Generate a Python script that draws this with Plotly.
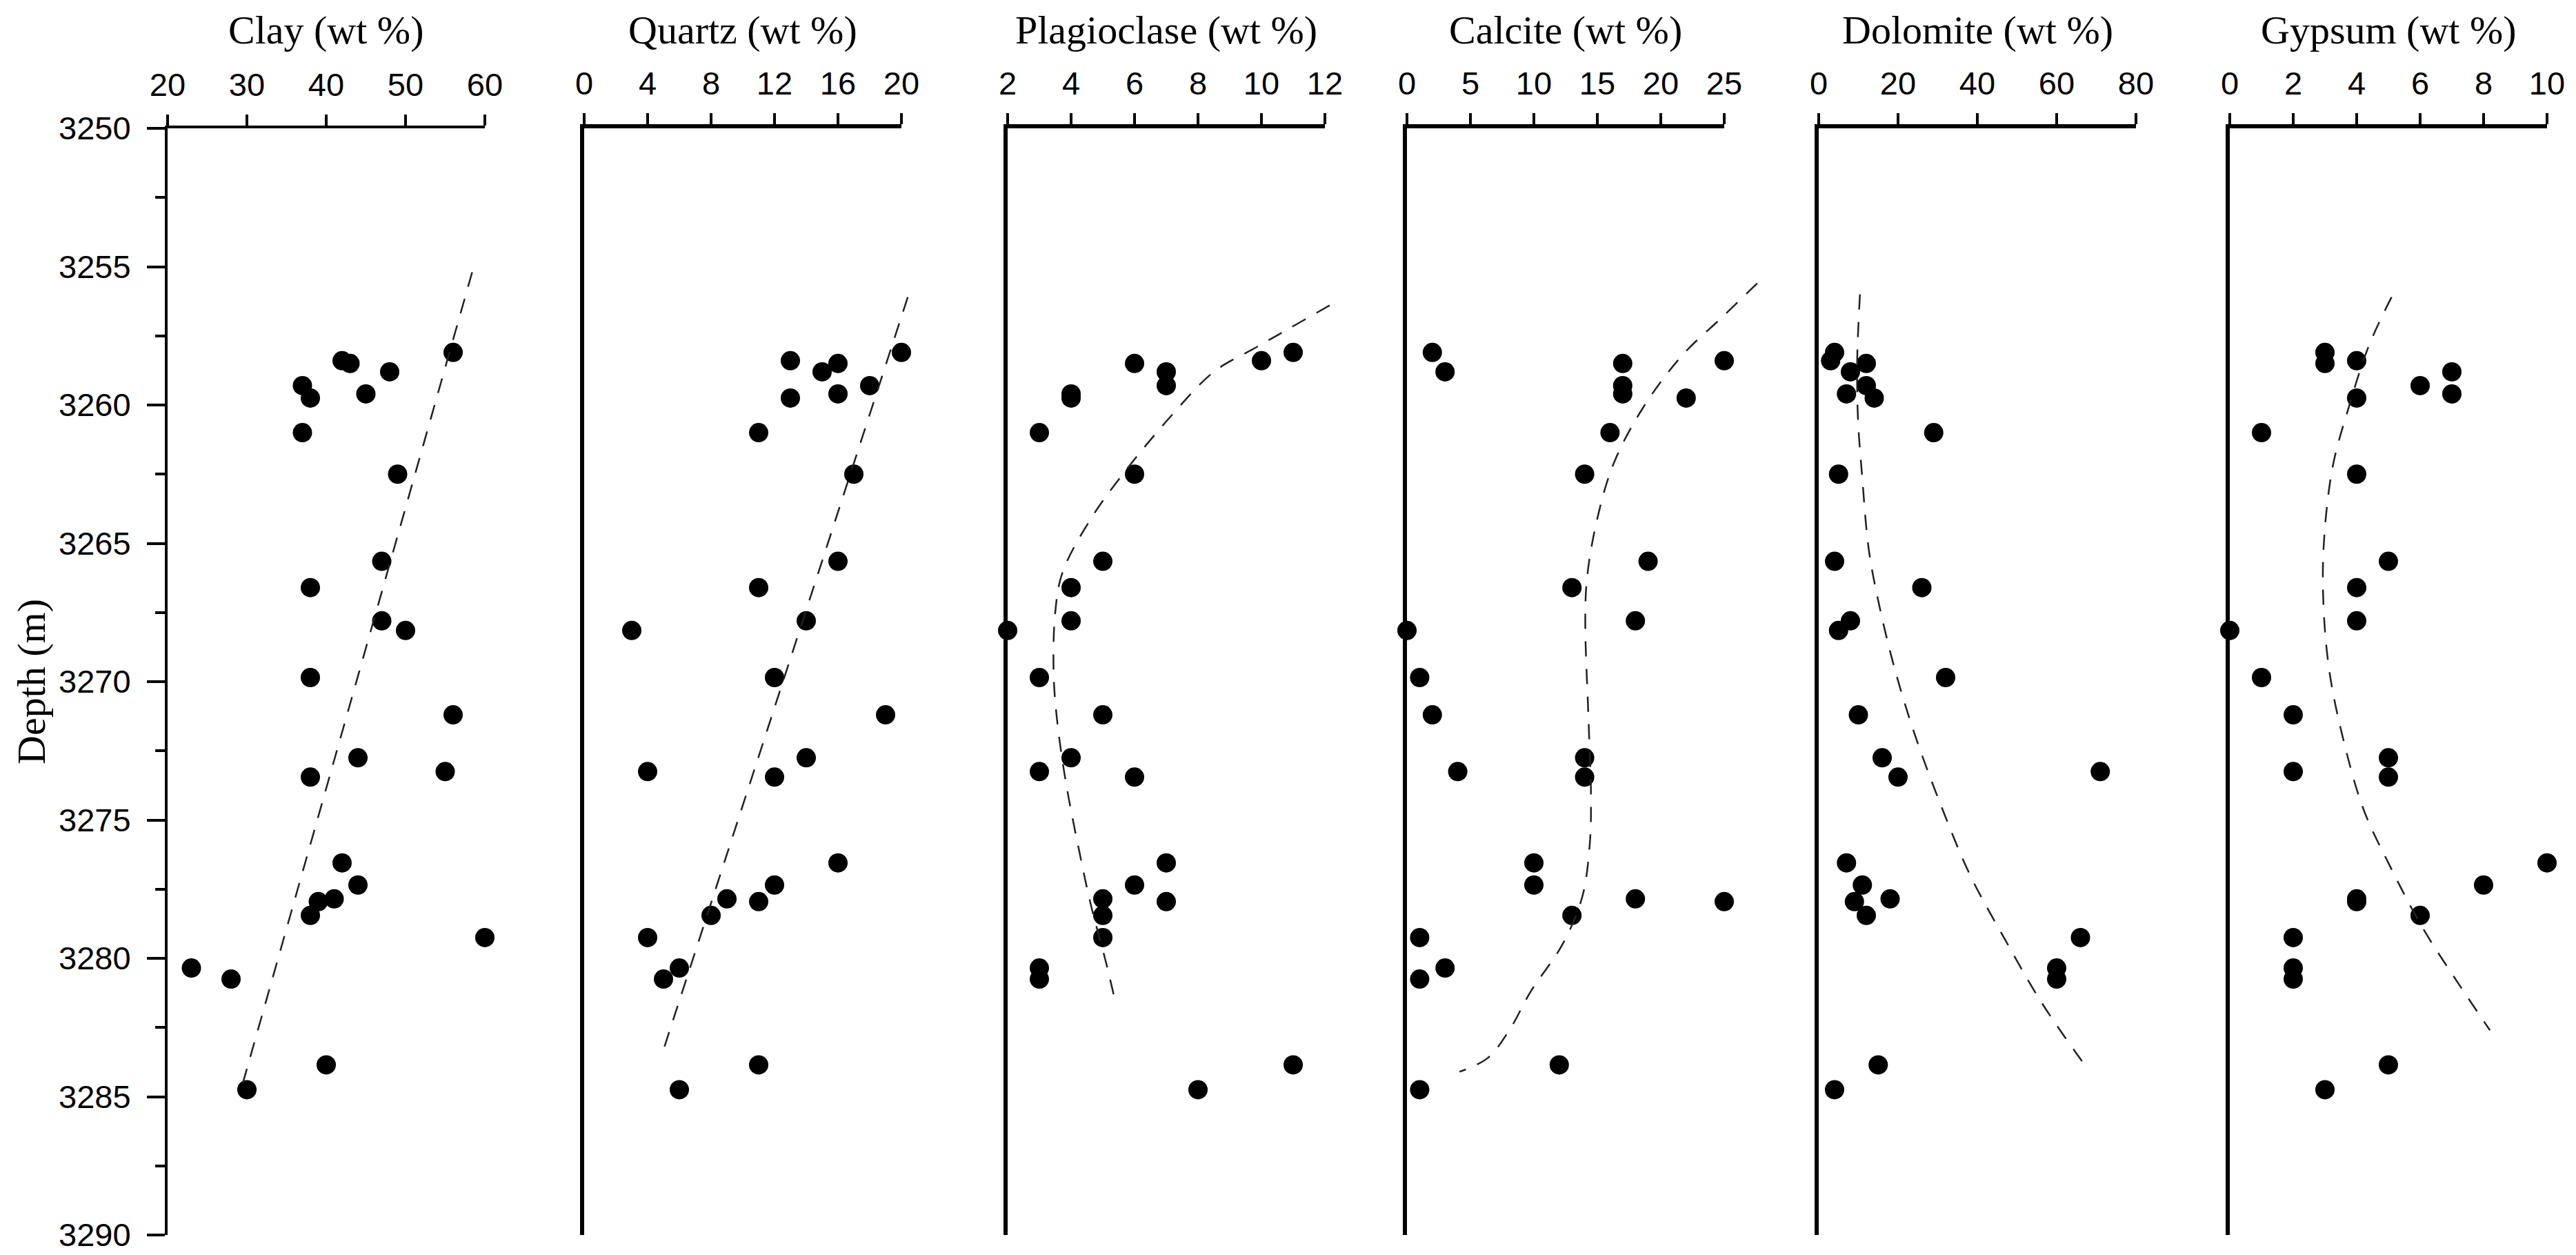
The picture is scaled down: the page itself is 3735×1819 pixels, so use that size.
import plotly.graph_objects as go

W, H = 3735, 1819

# ---------------- data ----------------
depth = [3258.1, 3258.4, 3258.5, 3258.8, 3259.3, 3259.6, 3259.75, 3261.0, 3262.5,
         3265.65, 3266.6, 3267.8, 3268.15, 3269.85, 3271.2, 3272.75, 3273.25, 3273.45,
         3276.55, 3277.35, 3277.85, 3277.95, 3278.45, 3279.25, 3280.35, 3280.75,
         3283.85, 3284.75]

clay = [56, 42, 43, 48, 37, 45, 38, 37, 49, 47, 38, 47, 50, 38, 56, 44, 55, 38,
        42, 44, 41, 39, 38, 60, 23, 28, 40, 30]
quartz = [20, 13, 16, 15, 18, 16, 13, 11, 17, 16, 11, 14, 3, 12, 19, 14, 4, 12,
          16, 12, 9, 11, 8, 4, 6, 5, 11, 6]
plagioclase = [11, 10, 6, 7, 7, 4, 4, 3, 6, 5, 4, 4, 2, 3, 5, 4, 3, 6,
               7, 6, 5, 7, 5, 5, 3, 3, 11, 8]
calcite = [2, 25, 17, 3, 17, 17, 22, 16, 14, 19, 13, 18, 0, 1, 2, 14, 4, 14,
           10, 10, 18, 25, 13, 1, 3, 1, 12, 1]
dolomite = [4, 3, 12, 8, 12, 7, 14, 29, 5, 4, 26, 8, 5, 32, 10, 16, 71, 20,
            7, 11, 18, 9, 12, 66, 60, 60, 15, 4]
gypsum = [3, 4, 3, 7, 6, 7, 4, 1, 4, 5, 4, 4, 0, 1, 2, 5, 2, 5,
          10, 8, 4, 4, 6, 2, 2, 2, 5, 3]

# dashed trend curves (value, depth)
clay_fit_x = [58.4, 29.5]
clay_fit_d = [3255.2, 3284.5]
quartz_fit_x = [20.4, 5.0]
quartz_fit_d = [3256.1, 3283.3]
plag_fit_x = [12.15, 10.85, 9.86, 8.5, 7.15, 5.7, 4.63, 3.73, 3.5, 3.45, 3.55, 3.83, 4.27, 4.63, 5.09, 5.4]
plag_fit_d = [3256.4, 3257.25, 3257.9, 3258.8, 3260.4, 3262.4, 3264.1, 3266.05, 3267.5, 3269.7,
              3271.3, 3273.6, 3276.2, 3278.1, 3280.1, 3281.6]
calc_fit_x = [27.6, 24.9, 21.7, 18.6, 16.3, 15.0, 14.2, 14.05, 14.3, 14.5, 14.4, 13.8, 12.25, 9.75, 8.06, 6.37, 4.14]
calc_fit_d = [3255.6, 3256.8, 3258.2, 3260.1, 3262.1, 3264.1, 3266.2, 3267.8, 3271.3, 3274.1,
              3275.9, 3277.8, 3279.5, 3281.2, 3282.6, 3283.6, 3284.1]
dolo_fit_x = [10.4, 9.7, 9.9, 10.96, 12.6, 14.9, 18.9, 24.2, 30.9, 38.2, 46.9, 56.2, 67.8]
dolo_fit_d = [3256.0, 3258.4, 3260.5, 3262.6, 3265.2, 3267.0, 3269.4, 3271.9, 3274.5, 3277.0,
              3279.3, 3281.6, 3284.0]
gyp_fit_x = [5.1, 4.37, 3.72, 3.24, 2.96, 2.96, 3.15, 3.56, 4.21, 5.02, 6.08, 7.2, 8.2]
gyp_fit_d = [3256.1, 3257.9, 3260.2, 3262.25, 3265.1, 3267.4, 3269.7, 3272.0, 3274.6, 3276.6,
             3278.9, 3280.9, 3282.6]

titles = ["Clay (wt %)", "Quartz (wt %)", "Plagioclase (wt %)",
          "Calcite (wt %)", "Dolomite (wt %)", "Gypsum (wt %)"]
values = [clay, quartz, plagioclase, calcite, dolomite, gypsum]
fits = [(clay_fit_x, clay_fit_d), (quartz_fit_x, quartz_fit_d), (plag_fit_x, plag_fit_d),
        (calc_fit_x, calc_fit_d), (dolo_fit_x, dolo_fit_d), (gyp_fit_x, gyp_fit_d)]
x_ranges = [[20, 60], [0, 20], [2, 12], [0, 25], [0, 80], [0, 10]]
x_dticks = [10, 4, 2, 5, 20, 2]
depth_range = [3290, 3250]

# ---------------- layout geometry ----------------
panel_left = [235, 839, 1453, 2032, 2629, 3225]
panel_w = 460
top_px, bot_px = 178, 1782
y_dom = [1 - bot_px / H, 1 - top_px / H]

TICK_FONT = dict(family="Liberation Sans, Arial, sans-serif", size=47, color="black")
SERIF = "Liberation Serif, Times New Roman, serif"

fig = go.Figure()
layout = dict(
    width=W, height=H,
    margin=dict(l=0, r=0, t=0, b=0, autoexpand=False),
    paper_bgcolor="white", plot_bgcolor="rgba(0,0,0,0)",
    showlegend=False,
    annotations=[],
)

for i in range(6):
    n = i + 1
    xname = "x" if n == 1 else f"x{n}"
    yname = "y" if n == 1 else f"y{n}"
    xkey = "xaxis" if n == 1 else f"xaxis{n}"
    ykey = "yaxis" if n == 1 else f"yaxis{n}"
    lw = 4 if n == 1 else 6
    d0 = panel_left[i] / W
    d1 = (panel_left[i] + panel_w) / W
    layout[xkey] = dict(
        domain=[d0, d1], range=x_ranges[i], anchor=yname, side="top",
        showline=True, linecolor="black", linewidth=lw,
        ticks="outside", ticklen=16, tickwidth=4, tickcolor="black",
        tick0=x_ranges[i][0], dtick=x_dticks[i], tickmode="linear",
        showgrid=False, zeroline=False, tickfont=TICK_FONT,
        ticklabelstandoff=8, layer="below traces",
        automargin=False, ticklabeloverflow="allow",
    )
    if n == 1:
        layout[ykey] = dict(
            domain=y_dom, range=depth_range, anchor=xname,
            showline=True, linecolor="black", linewidth=lw,
            ticks="outside", ticklen=26, tickwidth=4, tickcolor="black",
            tick0=3250, dtick=5, tickmode="linear",
            minor=dict(ticks="outside", ticklen=14, tickwidth=4, tickcolor="black",
                       dtick=2.5, tick0=3250),
            showgrid=False, zeroline=False, tickfont=TICK_FONT,
            ticklabelstandoff=14, layer="below traces",
            automargin=False, ticklabeloverflow="allow",
        )
    else:
        layout[ykey] = dict(
            domain=y_dom, range=depth_range, anchor=xname, matches="y",
            showline=True, linecolor="black", linewidth=lw,
            ticks="", showticklabels=False, showgrid=False, zeroline=False,
            layer="below traces", automargin=False,
        )

    # hidden, slightly wider axis for the dashed trend line so it is not clipped
    ext = 0.12 if n < 6 else 0.05
    fk = 6 + n
    lo, hi = x_ranges[i]
    layout[f"xaxis{fk}"] = dict(
        domain=[d0, (panel_left[i] + panel_w * (1 + ext)) / W],
        range=[lo, hi + (hi - lo) * ext], anchor="y", visible=False,
        automargin=False,
    )

    fig.add_trace(go.Scatter(
        x=fits[i][0], y=fits[i][1], xaxis=f"x{fk}", yaxis="y",
        mode="lines", line=dict(color="#222222", width=2.5, dash="22px,18px",
                                shape="spline", smoothing=1.0),
        hoverinfo="skip",
    ))
    fig.add_trace(go.Scatter(
        x=values[i], y=depth, xaxis=xname, yaxis=yname,
        mode="markers", marker=dict(color="black", size=28, line=dict(width=0)),
        cliponaxis=False,
    ))

    layout["annotations"].append(dict(
        text=titles[i], xref="paper", yref="paper",
        x=(d0 + d1) / 2, y=1 - 36 / H, xanchor="center", yanchor="middle",
        showarrow=False, font=dict(family=SERIF, size=58, color="black"),
    ))

layout["annotations"].append(dict(
    text="Depth (m)", xref="paper", yref="paper",
    x=37 / W, y=(y_dom[0] + y_dom[1]) / 2, xanchor="center", yanchor="middle",
    textangle=-90, showarrow=False, font=dict(family=SERIF, size=58, color="black"),
))

fig.update_layout(**layout)
fig.write_html("out.html")
